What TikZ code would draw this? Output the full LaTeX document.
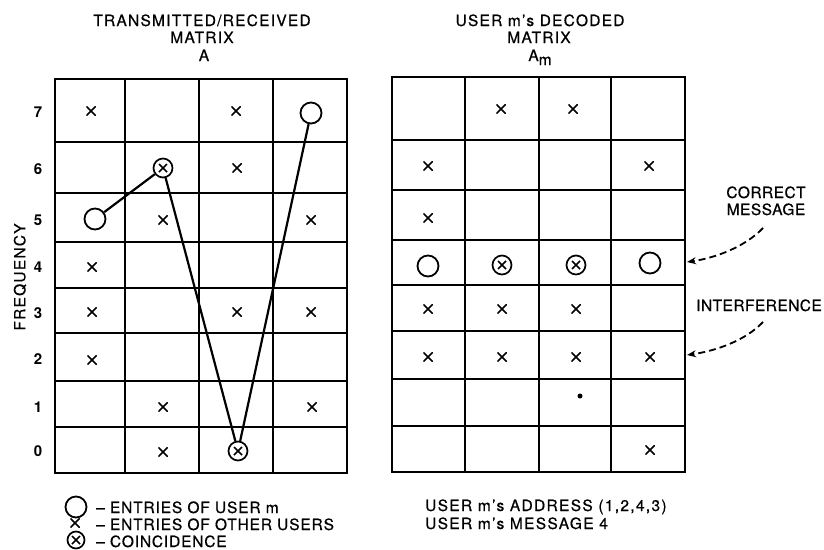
\documentclass[tikz,border=0pt]{standalone}
\usepackage{fontspec}
\setmainfont{TeX Gyre Heros}
\newfontfamily\tfont[LetterSpace=8,FakeBold=0.6]{TeX Gyre Heros}
\newfontfamily\cfont[LetterSpace=3,FakeBold=0.6]{TeX Gyre Heros}
\newfontfamily\lfont[LetterSpace=5.5,FakeBold=0.6]{TeX Gyre Heros}
\newfontfamily\rfont[LetterSpace=8.5,FakeBold=0.6]{TeX Gyre Heros}
\usetikzlibrary{arrows.meta}
\tikzset{
  ttl/.style={font=\fontsize{15.5}{18}\tfont, inner sep=0pt},
  lab/.style={font=\fontsize{15.5}{18}\cfont, inner sep=0pt},
  leg/.style={font=\fontsize{15.5}{18}\lfont, inner sep=0pt},
  rleg/.style={font=\fontsize{15.5}{18}\rfont, inner sep=0pt},
  num/.style={font=\fontsize{15}{17}\selectfont\bfseries, inner sep=0pt},
  xm/.style={minimum size=9.5pt, inner sep=0pt, outer sep=0pt,
    path picture={\draw[line width=1.6pt] (path picture bounding box.north west) -- (path picture bounding box.south east)
      (path picture bounding box.north east) -- (path picture bounding box.south west);}},
  um/.style={circle, draw, line width=1.8pt, minimum size=21pt, inner sep=0pt},
  co/.style={circle, draw, line width=1.7pt, minimum size=19pt, inner sep=0pt,
    path picture={\draw[line width=1.5pt] ([shift={(-4pt,-4pt)}]path picture bounding box.center) -- ++(8pt,8pt)
      ([shift={(-4pt,4pt)}]path picture bounding box.center) -- ++(8pt,-8pt);}},
  gridin/.style={line width=1.8pt},
  gridout/.style={line width=2.3pt},
  link/.style={line width=2.2pt},
  callout/.style={line width=1.8pt, dash pattern=on 7pt off 4pt, -{Stealth[length=9pt,width=7pt]}},
}
\begin{document}
\begin{tikzpicture}[x=1pt,y=-1pt]
\useasboundingbox (0,0) rectangle (824,549);
% ---------- titles ----------
\node[ttl, anchor=base] (t1) at (202,26) {TRANSMITTED/RECEIVED};
\node[ttl, anchor=base] (t2) at (202,43) {MATRIX};
\node[ttl, anchor=base] (t3) at (204,61) {A};
\node[ttl, anchor=base] (r1) at (540,26) {USER m’s DECODED};
\node[ttl, anchor=base] (r2) at (539,43) {MATRIX};
\node[ttl, anchor=base] (r3) at (540,61) {A\raisebox{-4pt}{m}};
% ---------- left grid ----------
\foreach \x in {125,199,273} \draw[gridin] (\x,79) -- (\x,473);
\foreach \y in {142,193,242,288,333,381,427} \draw[gridin] (55,\y) -- (347,\y);
\draw[gridout] (55,79) rectangle (347,473);
% ---------- right grid ----------
\foreach \x in {465,539,611} \draw[gridin] (\x,77) -- (\x,472);
\foreach \y in {140,190,240,285,331,379,426} \draw[gridin] (392,\y) -- (685,\y);
\draw[gridout] (392,77) rectangle (685,472);
% ---------- row labels ----------
\node[num] (n7) at (38,112) {7};
\node[num] (n6) at (38,169) {6};
\node[num] (n5) at (38,220) {5};
\node[num] (n4) at (38,267) {4};
\node[num] (n3) at (38,313) {3};
\node[num] (n2) at (38,359) {2};
\node[num] (n1) at (38,407) {1};
\node[num] (n0) at (38,451) {0};
\node[ttl, rotate=90] (freq) at (20,277) {FREQUENCY};
% ---------- left marks ----------
\node[xm] (a70) at (91,111) {};
\node[xm] (a72) at (236,111) {};
\node[um] (u3) at (311,113) {};
\node[co] (u1) at (163,168) {};
\node[xm] (a62) at (237,168) {};
\node[um] (u0) at (95,219) {};
\node[xm] (a51) at (163,220) {};
\node[xm] (a53) at (311,220) {};
\node[xm] (a40) at (92,267) {};
\node[xm] (a30) at (92,312) {};
\node[xm] (a32) at (237,312) {};
\node[xm] (a33) at (311,312) {};
\node[xm] (a20) at (92,360) {};
\node[xm] (a11) at (163,407) {};
\node[xm] (a13) at (312,407) {};
\node[xm] (a01) at (163,452) {};
\node[co] (u2) at (238,451) {};
\draw[link] (u0) -- (u1);
\draw[link] (u1) -- (u2);
\draw[link] (u2) -- (u3);
% ---------- right marks ----------
\node[xm] (b71) at (501,109) {};
\node[xm] (b72) at (573,109) {};
\node[xm] (b60) at (428,166) {};
\node[xm] (b63) at (649,166) {};
\node[xm] (b50) at (428,218) {};
\node[um] (m0) at (428,266) {};
\node[co] (m1) at (502,265) {};
\node[co] (m2) at (576,265) {};
\node[um] (m3) at (650,263) {};
\node[xm] (b30) at (428,309) {};
\node[xm] (b31) at (502,309) {};
\node[xm] (b32) at (576,309) {};
\node[xm] (b20) at (428,357) {};
\node[xm] (b21) at (502,357) {};
\node[xm] (b22) at (576,357) {};
\node[xm] (b23) at (650,357) {};
\node[circle, fill, inner sep=0pt, minimum size=5pt] (dot) at (580,396) {};
\node[xm] (b03) at (650,450) {};
% ---------- callouts ----------
\node[lab, anchor=base] (cm1) at (766,198) {CORRECT};
\node[lab, anchor=base] (cm2) at (766,215) {MESSAGE};
\node[lab, anchor=base] (intf) at (759,311) {INTERFERENCE};
\coordinate (cs) at (763,228);
\coordinate (ce) at (687,262);
\coordinate (is) at (763,322);
\coordinate (ie) at (687,355);
\draw[callout] (cs) .. controls (745,247) and (715,258) .. (ce);
\draw[callout] (is) .. controls (745,341) and (715,351) .. (ie);
% ---------- legend ----------
\node[um] (l1) at (76,507) {};
\node[xm] (l2) at (75,523) {};
\node[co, minimum size=17pt] (l3) at (76,540) {};
\node[leg, anchor=base west] (lt1) at (96,513) {– ENTRIES OF USER m};
\node[leg, anchor=base west] (lt2) at (96,530) {– ENTRIES OF OTHER USERS};
\node[leg, anchor=base west] (lt3) at (96,547) {– COINCIDENCE};
\node[rleg, anchor=base west] (rt1) at (425,511) {USER m’s ADDRESS (1,2,4,3)};
\node[rleg, anchor=base west] (rt2) at (425,529) {USER m’s MESSAGE 4};
\end{tikzpicture}
\end{document}
